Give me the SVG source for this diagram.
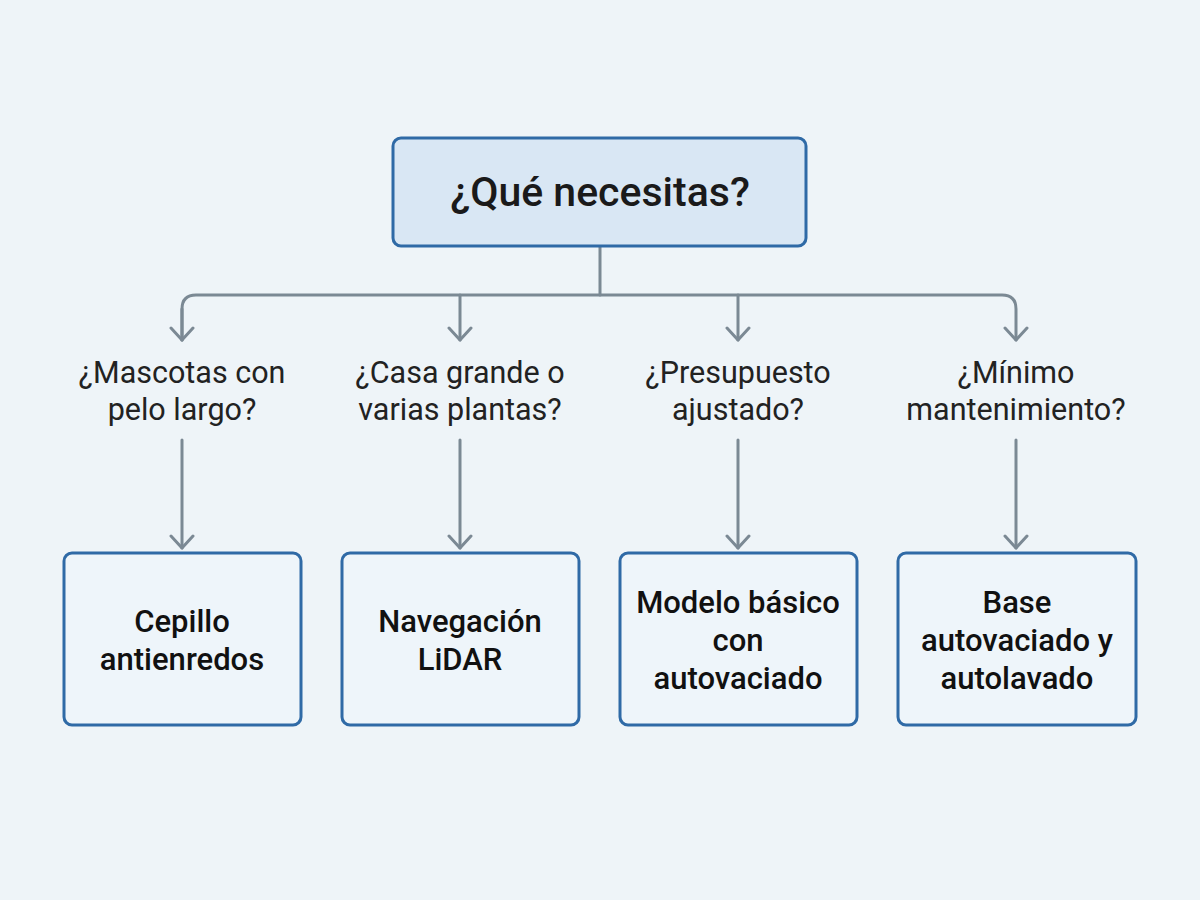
<svg xmlns="http://www.w3.org/2000/svg" width="1200" height="900" viewBox="0 0 1200 900">
  <style>
    .bg { fill: #eef4f8; }
    .root-box { fill: #d9e7f4; stroke: #2f6aa6; stroke-width: 3; }
    .leaf-box { fill: #eef5fa; stroke: #2f6aa6; stroke-width: 3; }
    .wire { fill: none; stroke: #7b8994; stroke-width: 3; stroke-linecap: round; stroke-linejoin: round; }
    .title { font-family: Roboto, "Liberation Sans", sans-serif; font-size: 41px; font-weight: 500; fill: #1a1a1a; text-anchor: middle; }
    .question { font-family: Roboto, "Liberation Sans", sans-serif; font-size: 30.5px; font-weight: 400; fill: #222; text-anchor: middle; }
    .answer { font-family: Roboto, "Liberation Sans", sans-serif; font-size: 31px; font-weight: 500; fill: #111; text-anchor: middle; }
  </style>
  <defs>
    <marker id="head" viewBox="-14 -14 28 28" refX="0" refY="0" markerWidth="28" markerHeight="28" markerUnits="userSpaceOnUse" orient="auto">
      <path d="M-12 -11 L0 0 L-12 11" fill="none" stroke="#7b8994" stroke-width="3" stroke-linecap="round" stroke-linejoin="round"/>
    </marker>
  </defs>

  <rect class="bg" x="0" y="0" width="1200" height="900"/>

  <g id="connectors">
    <!-- trunk and bus -->
    <path class="wire" d="M600 247 V295"/>
    <path class="wire" d="M182 340 V309 Q182 295 196 295 H1002 Q1016 295 1016 309 V340" marker-end="url(#head)"/>
    <path class="wire" d="M182 309 V340" marker-end="url(#head)"/>
    <path class="wire" d="M460 295 V340" marker-end="url(#head)"/>
    <path class="wire" d="M738 295 V340" marker-end="url(#head)"/>
    <!-- question to answer -->
    <path class="wire" d="M182 440 V548" marker-end="url(#head)"/>
    <path class="wire" d="M460 440 V548" marker-end="url(#head)"/>
    <path class="wire" d="M738 440 V548" marker-end="url(#head)"/>
    <path class="wire" d="M1016 440 V548" marker-end="url(#head)"/>
  </g>

  <g id="root">
    <rect class="root-box" x="393" y="138" width="413" height="108" rx="8"/>
    <text class="title" x="600" y="206">¿Qué necesitas?</text>
  </g>

  <g id="q-mascotas">
    <text class="question" x="182" y="383">¿Mascotas con</text>
    <text class="question" x="182" y="420">pelo largo?</text>
  </g>
  <g id="q-casa">
    <text class="question" x="460" y="383">¿Casa grande o</text>
    <text class="question" x="460" y="420">varias plantas?</text>
  </g>
  <g id="q-presupuesto">
    <text class="question" x="738" y="383">¿Presupuesto</text>
    <text class="question" x="738" y="420">ajustado?</text>
  </g>
  <g id="q-mantenimiento">
    <text class="question" x="1016" y="383">¿Mínimo</text>
    <text class="question" x="1016" y="420">mantenimiento?</text>
  </g>

  <g id="a-cepillo">
    <rect class="leaf-box" x="64" y="553" width="237" height="172" rx="8"/>
    <text class="answer" x="182" y="632">Cepillo</text>
    <text class="answer" x="182" y="670">antienredos</text>
  </g>
  <g id="a-lidar">
    <rect class="leaf-box" x="342" y="553" width="237" height="172" rx="8"/>
    <text class="answer" x="460" y="632">Navegación</text>
    <text class="answer" x="460" y="670">LiDAR</text>
  </g>
  <g id="a-basico">
    <rect class="leaf-box" x="620" y="553" width="237" height="172" rx="8"/>
    <text class="answer" x="738" y="613">Modelo básico</text>
    <text class="answer" x="738" y="651">con</text>
    <text class="answer" x="738" y="689">autovaciado</text>
  </g>
  <g id="a-base">
    <rect class="leaf-box" x="898" y="553" width="238" height="172" rx="8"/>
    <text class="answer" x="1017" y="613">Base</text>
    <text class="answer" x="1017" y="651">autovaciado y</text>
    <text class="answer" x="1017" y="689">autolavado</text>
  </g>
</svg>
